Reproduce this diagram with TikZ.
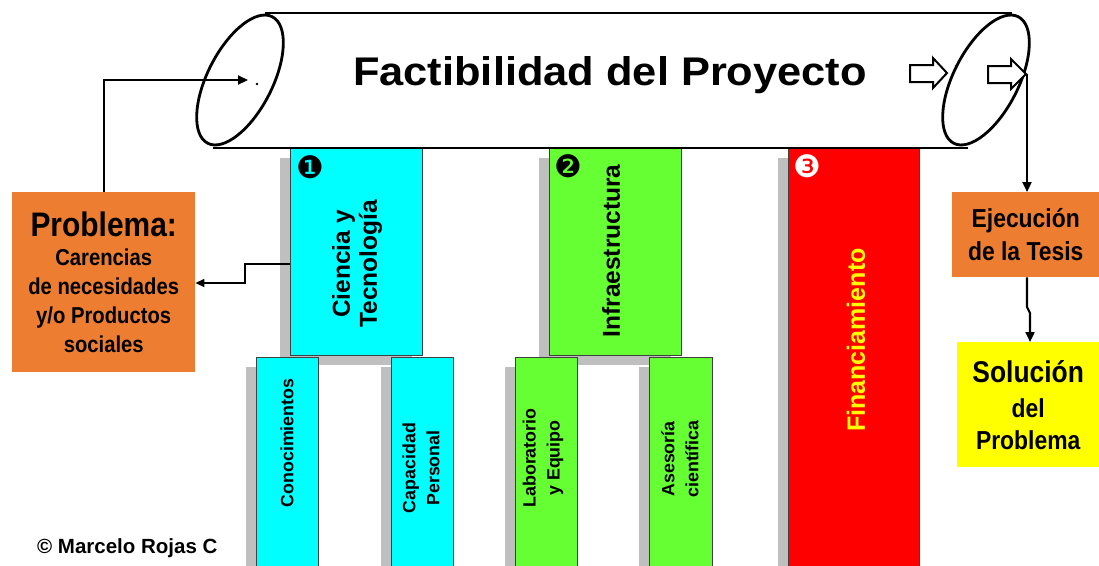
\documentclass[tikz,border=0pt]{standalone}
\usepackage{fontspec}
\setmainfont{Liberation Sans}
\newfontfamily\widefont[FakeStretch=1.085]{Liberation Sans}
\newfontfamily\narrowfont[FakeStretch=0.88]{Liberation Sans}
\newfontfamily\dingfont{DejaVu Sans}
\usetikzlibrary{arrows.meta,shadows,calc}
\definecolor{cyanc}{HTML}{00FFFF}
\definecolor{greenc}{HTML}{66FF33}
\definecolor{redc}{HTML}{FF0000}
\definecolor{orangec}{HTML}{ED7D31}
\definecolor{yellowc}{HTML}{FFFF00}
\definecolor{shadowc}{HTML}{BFBFBF}
\begin{document}
\begin{tikzpicture}[x=1pt,y=-1pt,
  pillar/.style={draw=black!75, line width=0.8pt, anchor=north west, inner sep=0pt,
    general shadow={fill=shadowc, shadow xshift=-10pt, shadow yshift=-10pt}},
  infobox/.style={anchor=north west, inner sep=0pt, align=center},
  vtext/.style={rotate=90, align=center, inner sep=0pt},
  subfont/.style={font=\bfseries\fontsize{17.8}{24}\selectfont},
  conn/.style={line width=2.2pt, -{Triangle[length=10pt,width=9pt]}},
  thinconn/.style={line width=1.2pt, -{Triangle[length=9pt,width=8pt]}},
  rim/.style={line width=2.8pt},
  hollow/.style={line width=2pt, fill=white, line join=miter},
  ding/.style={font=\dingfont\fontsize{31}{31}\selectfont, inner sep=0pt}]
\useasboundingbox (0,0) rectangle (1099,565);

% pillars
\node[pillar, fill=cyanc, minimum width=132pt, minimum height=207pt] (cyt) at (290,148) {};
\node[pillar, fill=greenc, minimum width=132pt, minimum height=207pt] (inf) at (549,148) {};
\node[pillar, fill=redc, minimum width=131pt, minimum height=420pt] (fin) at (788,148) {};
\node[pillar, fill=cyanc, minimum width=62pt, minimum height=210pt] (cono) at (256,357) {};
\node[pillar, fill=cyanc, minimum width=62pt, minimum height=210pt] (capa) at (391,357) {};
\node[pillar, fill=greenc, minimum width=62pt, minimum height=210pt] (labo) at (515,357) {};
\node[pillar, fill=greenc, minimum width=63pt, minimum height=210pt] (ases) at (649,357) {};

% pillar texts
\node[vtext, font=\bfseries\fontsize{24.5}{27}\selectfont] (cyttxt) at (357,264) {Ciencia y\\Tecnología};
\node[vtext, font=\bfseries\fontsize{24.5}{27}\selectfont] (inftxt) at (611,251) {Infraestructura};
\node[vtext, font=\bfseries\fontsize{25}{27}\selectfont, text=yellowc] (fintxt) at (856,340) {Financiamiento};
\node[vtext, subfont] (conotxt) at (287,443) {Conocimientos};
\node[vtext, subfont] (capatxt) at (421,468) {Capacidad\\Personal};
\node[vtext, subfont] (labotxt) at (543,458) {Laboratorio\\y Equipo};
\node[vtext, subfont] (asestxt) at (680,459) {Asesoría\\científica};

% numbers
\node[ding] (n1) at (310,167) {❶};
\node[ding] (n2) at (568,166) {❷};
\node[ding, text=white] (n3) at (807,166) {❸};

% cylinder
\draw[line width=2.5pt] (265,13) -- (1012,13);
\draw[line width=2.5pt] (213,148) -- (968,148);
\draw[rim, rotate around={-27:(240,80)}] (240,80) ellipse [x radius=32.5pt, y radius=71pt];
\draw[rim, rotate around={-27:(986,80)}] (986,80) ellipse [x radius=32.5pt, y radius=71pt];
\node[font=\widefont\bfseries\fontsize{40}{40}\selectfont, anchor=base, inner sep=0pt] (title) at (610,85) {Factibilidad del Proyecto};

% hollow arrows
\draw[hollow] (910,65) -- (933,65) -- (933,58) -- (947,73) -- (933,88) -- (933,82) -- (910,82) -- cycle;
\draw[hollow] (988,66) -- (1011,66) -- (1011,59) -- (1026,74) -- (1011,89) -- (1011,83) -- (988,83) -- cycle;

% side boxes
\node[infobox, fill=orangec, minimum width=183pt, minimum height=180pt,
  font=\narrowfont\bfseries\fontsize{23}{29}\selectfont] (prob) at (12,192)
  {{\fontsize{34}{34}\selectfont Problema:}\\Carencias\\de necesidades\\y/o Productos\\sociales};
\node[infobox, fill=orangec, minimum width=147pt, minimum height=85pt,
  font=\narrowfont\bfseries\fontsize{26}{33}\selectfont] (ejec) at (952,192)
  {Ejecución\\de la Tesis};
\node[infobox, fill=yellowc, minimum width=142pt, minimum height=125pt,
  font=\narrowfont\bfseries\fontsize{26}{32}\selectfont] (sol) at (957,342)
  {{\fontsize{30}{30}\selectfont Solución}\\[3pt]del\\Problema};

\node[anchor=base west, inner sep=0pt, font=\bfseries\fontsize{20.5}{24}\selectfont] (copy) at (37,553) {© Marcelo Rojas C};

% connectors
\coordinate (lin) at (248,80);
\coordinate (rtip) at (1027,74);
\draw[conn] (prob.north) |- (lin);
\fill (257,84) circle (1.3pt);
\draw[thinconn] (cyt.west |- 0,264) -- (245,264) -- (245,283) -- (prob.east |- 0,283);
\draw[conn] (rtip) -- (rtip |- ejec.north);
\draw[conn] (ejec.south -| 1027,0) -- (1027,307) -- (1030,313) -- (1030,0 |- sol.north);
\end{tikzpicture}
\end{document}
